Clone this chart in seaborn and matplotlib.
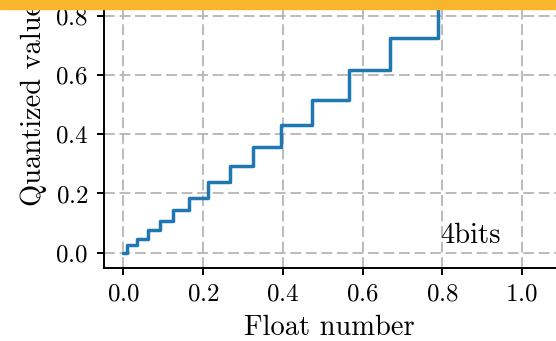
import matplotlib
matplotlib.use('Agg')
import matplotlib.pyplot as plt
from matplotlib.patches import Rectangle
import seaborn as sns
import pandas as pd

# 4-bit non-uniform quantizer
# jump positions (float value where the output steps up) and output levels
jumps = [0.0, 0.0095, 0.033, 0.062, 0.092, 0.125, 0.165, 0.211, 0.267,
         0.326, 0.396, 0.474, 0.565, 0.669, 0.789, 0.927, 1.0]
levels = [0.0, 0.0246, 0.048, 0.0765, 0.108, 0.144, 0.1845, 0.24, 0.293,
          0.357, 0.4307, 0.516, 0.615, 0.724, 0.854, 1.0, 1.0]
xticks = [0.0, 0.2, 0.4, 0.6, 0.8, 1.0]
yticks = [0.0, 0.2, 0.4, 0.6, 0.8, 1.0]
label = '4bits'

df = pd.DataFrame({'x': jumps, 'y': levels})

sns.set_style('ticks')
plt.rcParams['font.family'] = ['cmr10', 'DejaVu Serif']
plt.rcParams['mathtext.fontset'] = 'cm'
plt.rcParams['axes.formatter.use_mathtext'] = True
plt.rcParams['text.color'] = 'black'
plt.rcParams['axes.labelcolor'] = 'black'

x0, x1 = -0.05, 1.085
y0, y1 = -0.05, 1.05
fig = plt.figure(figsize=(5.56, 3.41), dpi=100)
# the axes run past the top edge of the picture (cropped figure)
ax = fig.add_axes([103.5 / 556, (341 - 267.6) / 341,
                   (x1 - x0) * 398.5 / 556, (y1 - y0) * 296.5 / 341])

sns.lineplot(data=df, x='x', y='y', ax=ax, drawstyle='steps-post',
             color='#1f77b4', linewidth=2.5, zorder=3)

ax.set_xlim(x0, x1)
ax.set_ylim(y0, y1)
ax.set_xticks(xticks)
ax.set_yticks(yticks)
ax.grid(True, linestyle='--', dashes=(6, 2.6), color='#b5b5b5', linewidth=1.3)
for s in ['top', 'right']:
    ax.spines[s].set_visible(False)
for s in ['left', 'bottom']:
    ax.spines[s].set_linewidth(1.4)
    ax.spines[s].set_color('black')
ax.tick_params(direction='out', length=5, width=1.4, labelsize=18,
               colors='black', pad=6)
ax.set_xlabel('Float number', fontsize=20.5, labelpad=7)
ax.set_ylabel('Quantized value', fontsize=20.5, labelpad=6)
ax.text(0.872, 0.034, label, fontsize=20.5, ha='center', va='baseline')

fig.add_artist(Rectangle((0, 1 - 8.7 / 341), 1, 8.7 / 341,
                         transform=fig.transFigure, color='#f9b52c', zorder=10))

fig.savefig('out.png', dpi=100)
